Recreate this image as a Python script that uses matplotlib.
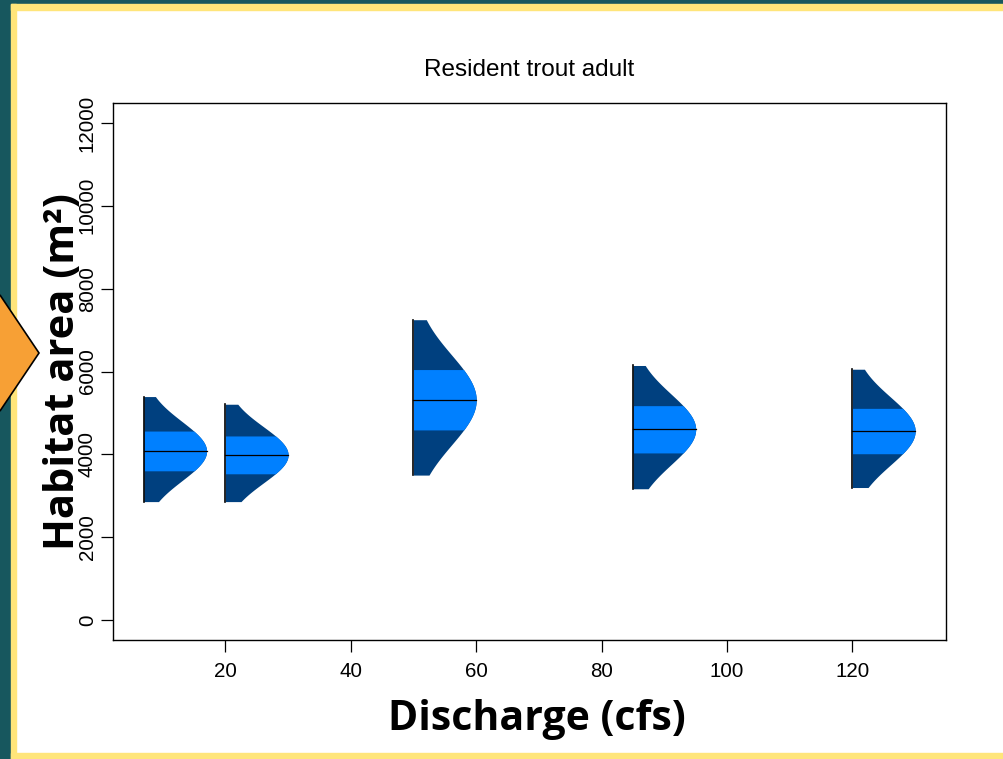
import numpy as np
import matplotlib
matplotlib.use("Agg")
import matplotlib.pyplot as plt
from matplotlib.patches import Rectangle, Polygon

# Habitat area summaries per discharge (m^2)
discharge = [7, 20, 50, 85, 120]
hab_min = [2860, 2860, 3500, 3170, 3200]
hab_q1 = [3600, 3530, 4590, 4030, 4010]
hab_med = [4080, 3990, 5315, 4605, 4565]
hab_q3 = [4565, 4445, 6055, 5180, 5115]
hab_max = [5395, 5210, 7250, 6145, 6055]

x_ticks = [20, 40, 60, 80, 100, 120]
y_ticks = [0, 2000, 4000, 6000, 8000, 10000, 12000]

W, H = 1004, 759
dark = "#00407f"
light = "#0080ff"

fig = plt.figure(figsize=(W / 100, H / 100), dpi=100)

# slide background: teal strip, yellow frame, orange marker
bg = fig.add_axes([0, 0, 1, 1], zorder=-1)
bg.set_xlim(0, W)
bg.set_ylim(H, 0)
bg.axis("off")
bg.add_patch(Rectangle((0, 0), W, H, color="white"))
bg.add_patch(Rectangle((0, 0), 11, H, color="#17575e"))
bg.add_patch(Rectangle((0, 0), W, 4, color="#17575e"))
bg.add_patch(Rectangle((11, 4), W, 5.5, color="#ffe57a"))
bg.add_patch(Rectangle((11, 4), 5, H, color="#ffe57a"))
bg.add_patch(Rectangle((11, 753), W, 6, color="#ffe57a"))
bg.add_patch(Polygon([(39, 353), (0, 295), (-39, 353), (0, 411)],
                     closed=True, facecolor="#f7a035", edgecolor="black", lw=1.2))

# main plot
l, r, t, b = 113, 946, 103, 640
ax = fig.add_axes([l / W, 1 - b / H, (r - l) / W, (b - t) / H])
ax.set_xlim(2.08, 134.92)
ax.set_ylim(-480, 12480)

half_width = 10
for pos, lo, q1, med, q3, hi in zip(discharge, hab_min, hab_q1, hab_med, hab_q3, hab_max):
    sd = (q3 - q1) / 1.349
    y = np.linspace(lo, hi, 400)
    w = half_width * np.exp(-0.5 * ((y - med) / sd) ** 2)
    ax.fill_betweenx(y, pos, pos + w, color=dark, lw=0)
    box = (y >= q1) & (y <= q3)
    ax.fill_betweenx(y[box], pos, pos + w[box], color=light, lw=0)
    ax.plot([pos, pos + half_width], [med, med], color="black", lw=0.9)
    ax.plot([pos, pos], [lo, hi], color="black", lw=1.2)

ax.set_xticks(x_ticks)
ax.set_yticks(y_ticks)
ax.set_xticklabels([str(v) for v in x_ticks], fontsize=14.8, family="Liberation Sans")
ax.set_yticklabels([str(v) for v in y_ticks], fontsize=14.8, family="Liberation Sans",
                   rotation=90, va="center")
ax.tick_params(length=8.6, width=0.9)
ax.tick_params(axis="x", pad=7)
ax.tick_params(axis="y", pad=3)
for s in ax.spines.values():
    s.set_linewidth(1.0)

fig.text(529.5 / W, 1 - 70 / H, "Resident trout adult", ha="center", va="center",
         fontsize=17.5, family="Liberation Sans")
fig.text(537 / W, 1 - 720 / H, "Discharge (cfs)", ha="center", va="center",
         fontsize=29.5, fontweight="bold", family="Open Sans")
fig.text(64 / W, 1 - 372 / H, "Habitat area (m²)", ha="center", va="center",
         rotation=90, fontsize=30, fontweight="bold", family="Open Sans")

fig.savefig("out.png", dpi=100)
